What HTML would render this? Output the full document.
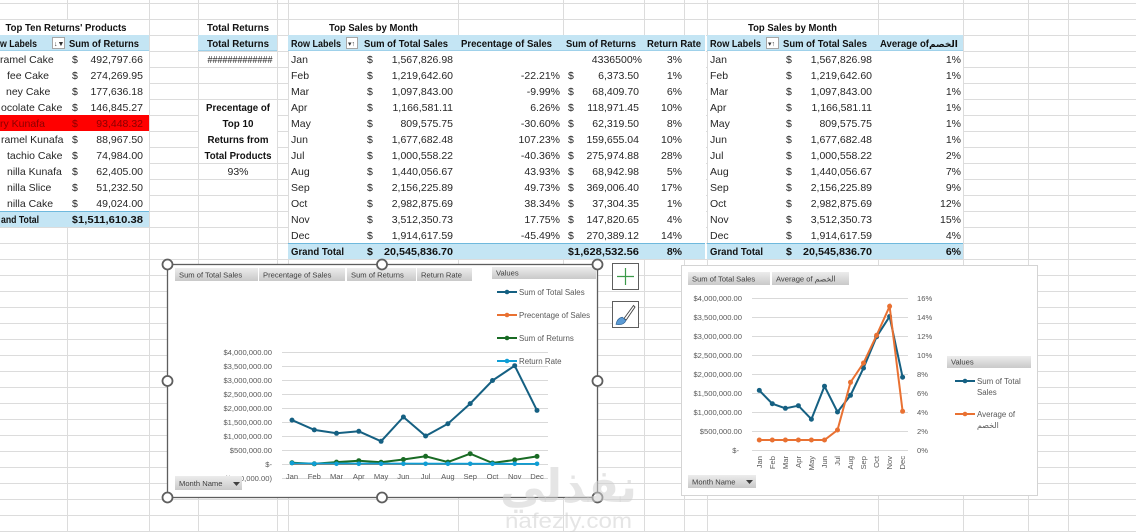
<!DOCTYPE html>
<html><head><meta charset="utf-8"><style>
html,body{margin:0;padding:0;background:#fff;}
svg{display:block;}
text{font-family:"Liberation Sans","DejaVu Sans",sans-serif;}
.t{font-size:10.5px;fill:#262626;}
.b{font-size:10.5px;font-weight:bold;fill:#111;}
.r{text-anchor:end;}
.m{text-anchor:middle;}
.c{font-size:7.6px;fill:#595959;}
.fb{font-size:7.6px;fill:#404040;}
</style></head><body>
<svg width="1136" height="532" viewBox="0 0 1136 532" xmlns="http://www.w3.org/2000/svg">
<defs>
<linearGradient id="btn" x1="0" y1="0" x2="0" y2="1"><stop offset="0" stop-color="#ececec"/><stop offset="1" stop-color="#c9c9c9"/></linearGradient>
</defs>
<rect width="1136" height="532" fill="#fff"/>
<!-- grid -->
<g stroke="#dcdcdc" stroke-width="1">
<path d="M0 3.5H1136M0 19.5H1136M0 35.5H1136M0 51.5H1136M0 67.5H1136M0 83.5H1136M0 99.5H1136M0 115.5H1136M0 131.5H1136M0 147.5H1136M0 163.5H1136M0 179.5H1136M0 195.5H1136M0 211.5H1136M0 227.5H1136M0 243.5H1136M0 259.5H1136M0 275.5H1136M0 291.5H1136M0 307.5H1136M0 323.5H1136M0 339.5H1136M0 355.5H1136M0 371.5H1136M0 387.5H1136M0 403.5H1136M0 419.5H1136M0 435.5H1136M0 451.5H1136M0 467.5H1136M0 483.5H1136M0 499.5H1136M0 515.5H1136M0 531.5H1136"/>
<path d="M67.5 0V532M149.5 0V532M198.5 0V532M277.5 0V532M288.5 0V532M458.5 0V532M563.5 0V532M644.5 0V532M684.5 0V532M707.5 0V532M878.5 0V532M963.5 0V532M1028.5 0V532M1068.5 0V532"/>
</g>
<!-- white covers for pivots -->
<rect x="0" y="20" width="149" height="207" fill="#fff"/>
<rect x="289" y="20" width="169" height="15" fill="#fff"/>
<rect x="289" y="35" width="417" height="224" fill="#fff"/>
<rect x="708" y="20" width="170" height="15" fill="#fff"/>
<rect x="708" y="35" width="255" height="224" fill="#fff"/>
<rect x="199" y="20" width="78" height="15" fill="#fff"/>
<rect x="199" y="100" width="78" height="63" fill="#fff"/>

<!-- LEFT TABLE -->
<text class="b m" x="66" y="31" textLength="121" lengthAdjust="spacingAndGlyphs">Top Ten Returns' Products</text>
<rect x="0" y="35" width="149" height="16" fill="#c4e5f4"/>
<line x1="0" y1="50.5" x2="149" y2="50.5" stroke="#9fd1ea"/>
<text class="b" x="0" y="47" textLength="37" lengthAdjust="spacingAndGlyphs">w Labels</text>
<rect x="52.5" y="37.5" width="12" height="11" fill="#fff" stroke="#a6a6a6"/>
<text x="54" y="46" style="font-size:7px;fill:#333">↓▼</text>
<text class="b" x="69" y="47" textLength="70" lengthAdjust="spacingAndGlyphs">Sum of Returns</text>
<rect x="0" y="115" width="149" height="16" fill="#ff0000"/>
<g class="t">
<text class="t" x="0" y="63">ramel Cake</text>
<text class="t" x="7" y="79">fee Cake</text>
<text class="t" x="6" y="95">ney Cake</text>
<text class="t" x="1" y="111">ocolate Cake</text>
<text class="t" x="0" y="127" style="fill:#8a0000">ry Kunafa</text>
<text class="t" x="1" y="143">ramel Kunafa</text>
<text class="t" x="7" y="159">tachio Cake</text>
<text class="t" x="7" y="175">nilla Kunafa</text>
<text class="t" x="7" y="191">nilla Slice</text>
<text class="t" x="7" y="207">nilla Cake</text>
<text class="t" x="72" y="63">$</text><text class="t r" x="143" y="63">492,797.66</text>
<text class="t" x="72" y="79">$</text><text class="t r" x="143" y="79">274,269.95</text>
<text class="t" x="72" y="95">$</text><text class="t r" x="143" y="95">177,636.18</text>
<text class="t" x="72" y="111">$</text><text class="t r" x="143" y="111">146,845.27</text>
<text class="t" x="72" y="127" style="fill:#8a0000">$</text><text class="t r" x="143" y="127" style="fill:#8a0000">93,448.32</text>
<text class="t" x="72" y="143">$</text><text class="t r" x="143" y="143">88,967.50</text>
<text class="t" x="72" y="159">$</text><text class="t r" x="143" y="159">74,984.00</text>
<text class="t" x="72" y="175">$</text><text class="t r" x="143" y="175">62,405.00</text>
<text class="t" x="72" y="191">$</text><text class="t r" x="143" y="191">51,232.50</text>
<text class="t" x="72" y="207">$</text><text class="t r" x="143" y="207">49,024.00</text>
</g>
<rect x="0" y="211" width="149" height="16" fill="#c4e5f4"/>
<line x1="0" y1="211.5" x2="149" y2="211.5" stroke="#6fb9dd"/>
<text class="b" x="1" y="223" textLength="38" lengthAdjust="spacingAndGlyphs">and Total</text>
<text class="b" x="72" y="223">$</text>
<text class="b" x="78" y="223" textLength="65" lengthAdjust="spacingAndGlyphs">1,511,610.38</text>

<!-- TOTAL RETURNS -->
<text class="b m" x="238" y="31" textLength="62" lengthAdjust="spacingAndGlyphs">Total Returns</text>
<rect x="198" y="35" width="79" height="16" fill="#c4e5f4"/>
<line x1="198" y1="50.5" x2="277" y2="50.5" stroke="#9fd1ea"/>
<text class="b m" x="238" y="47" textLength="62" lengthAdjust="spacingAndGlyphs">Total Returns</text>
<text class="t m" x="240" y="63" textLength="65" lengthAdjust="spacingAndGlyphs">#############</text>
<text class="b m" x="238" y="111" textLength="64" lengthAdjust="spacingAndGlyphs">Precentage of</text>
<text class="b m" x="238" y="127" textLength="31" lengthAdjust="spacingAndGlyphs">Top 10</text>
<text class="b m" x="238" y="143" textLength="61" lengthAdjust="spacingAndGlyphs">Returns from</text>
<text class="b m" x="238" y="159" textLength="67" lengthAdjust="spacingAndGlyphs">Total Products</text>
<text class="t m" x="238" y="175">93%</text>

<!-- MIDDLE TABLE -->
<text class="b" x="329" y="31" textLength="89" lengthAdjust="spacingAndGlyphs">Top Sales by Month</text>
<rect x="288" y="35" width="417" height="16" fill="#c4e5f4"/>
<line x1="288" y1="50.5" x2="705" y2="50.5" stroke="#9fd1ea"/>
<text class="b" x="291" y="47" textLength="50" lengthAdjust="spacingAndGlyphs">Row Labels</text>
<rect x="346.5" y="37.5" width="11" height="11" fill="#fff" stroke="#a6a6a6"/>
<text x="348" y="46" style="font-size:7px;fill:#333">▾↑</text>
<text class="b" x="364" y="47" textLength="84" lengthAdjust="spacingAndGlyphs">Sum of Total Sales</text>
<text class="b" x="461" y="47" textLength="91" lengthAdjust="spacingAndGlyphs">Precentage of Sales</text>
<text class="b" x="566" y="47" textLength="70" lengthAdjust="spacingAndGlyphs">Sum of Returns</text>
<text class="b" x="647" y="47" textLength="54" lengthAdjust="spacingAndGlyphs">Return Rate</text>
<g>
<text class="t" x="291" y="63">Jan</text><text class="t" x="367" y="63">$</text><text class="t r" x="453" y="63">1,567,826.98</text><text class="t r" x="642" y="63">4336500%</text><text class="t r" x="682" y="63">3%</text>
<text class="t" x="291" y="79">Feb</text><text class="t" x="367" y="79">$</text><text class="t r" x="453" y="79">1,219,642.60</text><text class="t r" x="560" y="79">-22.21%</text><text class="t" x="568" y="79">$</text><text class="t r" x="639" y="79">6,373.50</text><text class="t r" x="682" y="79">1%</text>
<text class="t" x="291" y="95">Mar</text><text class="t" x="367" y="95">$</text><text class="t r" x="453" y="95">1,097,843.00</text><text class="t r" x="560" y="95">-9.99%</text><text class="t" x="568" y="95">$</text><text class="t r" x="639" y="95">68,409.70</text><text class="t r" x="682" y="95">6%</text>
<text class="t" x="291" y="111">Apr</text><text class="t" x="367" y="111">$</text><text class="t r" x="453" y="111">1,166,581.11</text><text class="t r" x="560" y="111">6.26%</text><text class="t" x="568" y="111">$</text><text class="t r" x="639" y="111">118,971.45</text><text class="t r" x="682" y="111">10%</text>
<text class="t" x="291" y="127">May</text><text class="t" x="367" y="127">$</text><text class="t r" x="453" y="127">809,575.75</text><text class="t r" x="560" y="127">-30.60%</text><text class="t" x="568" y="127">$</text><text class="t r" x="639" y="127">62,319.50</text><text class="t r" x="682" y="127">8%</text>
<text class="t" x="291" y="143">Jun</text><text class="t" x="367" y="143">$</text><text class="t r" x="453" y="143">1,677,682.48</text><text class="t r" x="560" y="143">107.23%</text><text class="t" x="568" y="143">$</text><text class="t r" x="639" y="143">159,655.04</text><text class="t r" x="682" y="143">10%</text>
<text class="t" x="291" y="159">Jul</text><text class="t" x="367" y="159">$</text><text class="t r" x="453" y="159">1,000,558.22</text><text class="t r" x="560" y="159">-40.36%</text><text class="t" x="568" y="159">$</text><text class="t r" x="639" y="159">275,974.88</text><text class="t r" x="682" y="159">28%</text>
<text class="t" x="291" y="175">Aug</text><text class="t" x="367" y="175">$</text><text class="t r" x="453" y="175">1,440,056.67</text><text class="t r" x="560" y="175">43.93%</text><text class="t" x="568" y="175">$</text><text class="t r" x="639" y="175">68,942.98</text><text class="t r" x="682" y="175">5%</text>
<text class="t" x="291" y="191">Sep</text><text class="t" x="367" y="191">$</text><text class="t r" x="453" y="191">2,156,225.89</text><text class="t r" x="560" y="191">49.73%</text><text class="t" x="568" y="191">$</text><text class="t r" x="639" y="191">369,006.40</text><text class="t r" x="682" y="191">17%</text>
<text class="t" x="291" y="207">Oct</text><text class="t" x="367" y="207">$</text><text class="t r" x="453" y="207">2,982,875.69</text><text class="t r" x="560" y="207">38.34%</text><text class="t" x="568" y="207">$</text><text class="t r" x="639" y="207">37,304.35</text><text class="t r" x="682" y="207">1%</text>
<text class="t" x="291" y="223">Nov</text><text class="t" x="367" y="223">$</text><text class="t r" x="453" y="223">3,512,350.73</text><text class="t r" x="560" y="223">17.75%</text><text class="t" x="568" y="223">$</text><text class="t r" x="639" y="223">147,820.65</text><text class="t r" x="682" y="223">4%</text>
<text class="t" x="291" y="239">Dec</text><text class="t" x="367" y="239">$</text><text class="t r" x="453" y="239">1,914,617.59</text><text class="t r" x="560" y="239">-45.49%</text><text class="t" x="568" y="239">$</text><text class="t r" x="639" y="239">270,389.12</text><text class="t r" x="682" y="239">14%</text>
</g>
<rect x="288" y="243" width="417" height="16" fill="#c4e5f4"/>
<line x1="288" y1="243.5" x2="705" y2="243.5" stroke="#6fb9dd"/>
<text class="b" x="291" y="255" textLength="53" lengthAdjust="spacingAndGlyphs">Grand Total</text>
<text class="b" x="367" y="255">$</text>
<text class="b" x="384" y="255" textLength="69" lengthAdjust="spacingAndGlyphs">20,545,836.70</text>
<text class="b" x="568" y="255">$</text>
<text class="b" x="574" y="255" textLength="65" lengthAdjust="spacingAndGlyphs">1,628,532.56</text>
<text class="b r" x="682" y="255">8%</text>

<!-- RIGHT TABLE -->
<text class="b" x="748" y="31" textLength="89" lengthAdjust="spacingAndGlyphs">Top Sales by Month</text>
<rect x="707" y="35" width="256" height="16" fill="#c4e5f4"/>
<line x1="707" y1="50.5" x2="963" y2="50.5" stroke="#9fd1ea"/>
<text class="b" x="710" y="47" textLength="51" lengthAdjust="spacingAndGlyphs">Row Labels</text>
<rect x="766.5" y="37.5" width="12" height="11" fill="#fff" stroke="#a6a6a6"/>
<text x="768" y="46" style="font-size:7px;fill:#333">▾↑</text>
<text class="b" x="783" y="47" textLength="84" lengthAdjust="spacingAndGlyphs">Sum of Total Sales</text>
<text class="b" x="880" y="47" textLength="49" lengthAdjust="spacingAndGlyphs">Average of</text>
<text class="b" x="929" y="47" style="font-size:9px">الخصم</text>
<g>
<text class="t" x="710" y="63">Jan</text><text class="t" x="786" y="63">$</text><text class="t r" x="872" y="63">1,567,826.98</text><text class="t r" x="961" y="63">1%</text>
<text class="t" x="710" y="79">Feb</text><text class="t" x="786" y="79">$</text><text class="t r" x="872" y="79">1,219,642.60</text><text class="t r" x="961" y="79">1%</text>
<text class="t" x="710" y="95">Mar</text><text class="t" x="786" y="95">$</text><text class="t r" x="872" y="95">1,097,843.00</text><text class="t r" x="961" y="95">1%</text>
<text class="t" x="710" y="111">Apr</text><text class="t" x="786" y="111">$</text><text class="t r" x="872" y="111">1,166,581.11</text><text class="t r" x="961" y="111">1%</text>
<text class="t" x="710" y="127">May</text><text class="t" x="786" y="127">$</text><text class="t r" x="872" y="127">809,575.75</text><text class="t r" x="961" y="127">1%</text>
<text class="t" x="710" y="143">Jun</text><text class="t" x="786" y="143">$</text><text class="t r" x="872" y="143">1,677,682.48</text><text class="t r" x="961" y="143">1%</text>
<text class="t" x="710" y="159">Jul</text><text class="t" x="786" y="159">$</text><text class="t r" x="872" y="159">1,000,558.22</text><text class="t r" x="961" y="159">2%</text>
<text class="t" x="710" y="175">Aug</text><text class="t" x="786" y="175">$</text><text class="t r" x="872" y="175">1,440,056.67</text><text class="t r" x="961" y="175">7%</text>
<text class="t" x="710" y="191">Sep</text><text class="t" x="786" y="191">$</text><text class="t r" x="872" y="191">2,156,225.89</text><text class="t r" x="961" y="191">9%</text>
<text class="t" x="710" y="207">Oct</text><text class="t" x="786" y="207">$</text><text class="t r" x="872" y="207">2,982,875.69</text><text class="t r" x="961" y="207">12%</text>
<text class="t" x="710" y="223">Nov</text><text class="t" x="786" y="223">$</text><text class="t r" x="872" y="223">3,512,350.73</text><text class="t r" x="961" y="223">15%</text>
<text class="t" x="710" y="239">Dec</text><text class="t" x="786" y="239">$</text><text class="t r" x="872" y="239">1,914,617.59</text><text class="t r" x="961" y="239">4%</text>
</g>
<rect x="707" y="243" width="256" height="16" fill="#c4e5f4"/>
<line x1="707" y1="243.5" x2="963" y2="243.5" stroke="#6fb9dd"/>
<text class="b" x="710" y="255" textLength="53" lengthAdjust="spacingAndGlyphs">Grand Total</text>
<text class="b" x="786" y="255">$</text>
<text class="b" x="803" y="255" textLength="69" lengthAdjust="spacingAndGlyphs">20,545,836.70</text>
<text class="b r" x="961" y="255">6%</text>

<!-- LEFT CHART -->
<rect x="167.5" y="264.5" width="430" height="233" fill="#fff" stroke="#5e5e5e" stroke-width="1.3"/>
<g>
<rect x="175" y="268" width="83" height="13" fill="url(#btn)"/>
<text class="fb" x="179" y="277.5">Sum of Total Sales</text>
<rect x="259" y="268" width="86" height="13" fill="url(#btn)"/>
<text class="fb" x="263" y="277.5">Precentage of Sales</text>
<rect x="347" y="268" width="69" height="13" fill="url(#btn)"/>
<text class="fb" x="351" y="277.5">Sum of Returns</text>
<rect x="417" y="268" width="55" height="13" fill="url(#btn)"/>
<text class="fb" x="421" y="277.5">Return Rate</text>
<rect x="492" y="267" width="104" height="12" fill="url(#btn)"/>
<text class="fb" x="496" y="275.5">Values</text>
</g>
<g stroke="#d9d9d9" stroke-width="1">
<path d="M282 352.5H548M282 366.5H548M282 380.5H548M282 394.5H548M282 408.5H548M282 422.5H548M282 436.5H548M282 450.5H548M282 464.5H548M282 478.5H548"/>
</g>
<g class="c" text-anchor="end">
<text x="272" y="355">$4,000,000.00</text>
<text x="272" y="369">$3,500,000.00</text>
<text x="272" y="383">$3,000,000.00</text>
<text x="272" y="397">$2,500,000.00</text>
<text x="272" y="411">$2,000,000.00</text>
<text x="272" y="425">$1,500,000.00</text>
<text x="272" y="439">$1,000,000.00</text>
<text x="272" y="453">$500,000.00</text>
<text x="272" y="467">$-</text>
<text x="272" y="481">($500,000.00)</text>
</g>
<g class="c" text-anchor="middle">
<text x="292" y="479">Jan</text><text x="314.3" y="479">Feb</text><text x="336.5" y="479">Mar</text><text x="358.8" y="479">Apr</text><text x="381.1" y="479">May</text><text x="403.4" y="479">Jun</text><text x="425.6" y="479">Jul</text><text x="447.9" y="479">Aug</text><text x="470.2" y="479">Sep</text><text x="492.5" y="479">Oct</text><text x="514.7" y="479">Nov</text><text x="537" y="479">Dec</text>
</g>
<!-- series -->
<polyline fill="none" stroke="#156082" stroke-width="2" points="292,420.1 314.3,429.9 336.5,433.3 358.8,431.3 381.1,441.3 403.4,417 425.6,436 447.9,423.7 470.2,403.6 492.5,380.5 514.7,365.7 537,410.4"/>
<g fill="#156082"><circle cx="292" cy="420.1" r="2.5"/><circle cx="314.3" cy="429.9" r="2.5"/><circle cx="336.5" cy="433.3" r="2.5"/><circle cx="358.8" cy="431.3" r="2.5"/><circle cx="381.1" cy="441.3" r="2.5"/><circle cx="403.4" cy="417" r="2.5"/><circle cx="425.6" cy="436" r="2.5"/><circle cx="447.9" cy="423.7" r="2.5"/><circle cx="470.2" cy="403.6" r="2.5"/><circle cx="492.5" cy="380.5" r="2.5"/><circle cx="514.7" cy="365.7" r="2.5"/><circle cx="537" cy="410.4" r="2.5"/></g>
<polyline fill="none" stroke="#e97132" stroke-width="2" points="292,464 537,464"/>
<polyline fill="none" stroke="#196b24" stroke-width="2" points="292,462.8 314.3,463.8 336.5,462.1 358.8,460.7 381.1,462.3 403.4,459.5 425.6,456.3 447.9,462.1 470.2,453.7 492.5,463 514.7,459.9 537,456.4"/>
<g fill="#196b24"><circle cx="292" cy="462.8" r="2.5"/><circle cx="314.3" cy="463.8" r="2.5"/><circle cx="336.5" cy="462.1" r="2.5"/><circle cx="358.8" cy="460.7" r="2.5"/><circle cx="381.1" cy="462.3" r="2.5"/><circle cx="403.4" cy="459.5" r="2.5"/><circle cx="425.6" cy="456.3" r="2.5"/><circle cx="447.9" cy="462.1" r="2.5"/><circle cx="470.2" cy="453.7" r="2.5"/><circle cx="492.5" cy="463" r="2.5"/><circle cx="514.7" cy="459.9" r="2.5"/><circle cx="537" cy="456.4" r="2.5"/></g>
<polyline fill="none" stroke="#0f9ed5" stroke-width="2" points="292,463.5 537,463.9"/>
<g fill="#0f9ed5"><circle cx="292" cy="463" r="2.3"/><circle cx="314.3" cy="463.8" r="2.3"/><circle cx="336.5" cy="463.8" r="2.3"/><circle cx="358.8" cy="463.8" r="2.3"/><circle cx="381.1" cy="463.8" r="2.3"/><circle cx="403.4" cy="463.8" r="2.3"/><circle cx="425.6" cy="463.8" r="2.3"/><circle cx="447.9" cy="463.8" r="2.3"/><circle cx="470.2" cy="463.8" r="2.3"/><circle cx="492.5" cy="463.8" r="2.3"/><circle cx="514.7" cy="463.8" r="2.3"/><circle cx="537" cy="463.8" r="2.3"/></g>
<!-- legend -->
<g stroke-width="2">
<line x1="497" y1="292" x2="517" y2="292" stroke="#156082"/><circle cx="507" cy="292" r="2.3" fill="#156082"/>
<line x1="497" y1="315" x2="517" y2="315" stroke="#e97132"/><circle cx="507" cy="315" r="2.3" fill="#e97132"/>
<line x1="497" y1="338" x2="517" y2="338" stroke="#196b24"/><circle cx="507" cy="338" r="2.3" fill="#196b24"/>
<line x1="497" y1="361" x2="517" y2="361" stroke="#0f9ed5"/><circle cx="507" cy="361" r="2.3" fill="#0f9ed5"/>
</g>
<g class="c" style="font-size:7.9px">
<text x="519" y="295">Sum of Total Sales</text>
<text x="519" y="318">Precentage of Sales</text>
<text x="519" y="341">Sum of Returns</text>
<text x="519" y="364">Return Rate</text>
</g>
<rect x="175" y="476" width="67" height="14" fill="url(#btn)"/>
<text class="fb" x="179" y="486">Month Name</text>
<path d="M233 482h7l-3.5 4z" fill="#404040"/>
<!-- handles -->
<g fill="#fff" stroke="#5e5e5e" stroke-width="1.8">
<circle cx="167.5" cy="264.5" r="5"/><circle cx="382" cy="264.5" r="5"/><circle cx="597.5" cy="264.5" r="5"/>
<circle cx="167.5" cy="381" r="5"/><circle cx="597.5" cy="381" r="5"/>
<circle cx="167.5" cy="497.5" r="5"/><circle cx="382" cy="497.5" r="5"/><circle cx="597.5" cy="497.5" r="5"/>
</g>
<!-- side buttons -->
<rect x="612.5" y="263.5" width="26" height="26" fill="#fff" stroke="#5e5e5e"/>
<path d="M617 276.5H634M625.5 268V285" stroke="#3c9a4a" stroke-width="1.2"/>
<rect x="612.5" y="301.5" width="26" height="26" fill="#fff" stroke="#5e5e5e"/>
<path d="M633.5 305.5 L624 318.5 L626.2 320 L635 307 Z" fill="#fff" stroke="#444" stroke-width="0.9"/>
<path d="M616 324.5 Q617 318 622.5 317.2 L626 320.5 Q624 325.5 616 324.5 Z" fill="#5b9bd5" stroke="#2f5f8f" stroke-width="0.6"/>

<!-- RIGHT CHART -->
<rect x="681.5" y="265.5" width="356" height="230" fill="#fff" stroke="#d4d4d4"/>
<rect x="688" y="272" width="82" height="13" fill="url(#btn)"/>
<text class="fb" x="692" y="281.5">Sum of Total Sales</text>
<rect x="772" y="272" width="77" height="13" fill="url(#btn)"/>
<text class="fb" x="776" y="281.5">Average of الخصم</text>
<g stroke="#d9d9d9" stroke-width="1">
<path d="M752 298.5H908M752 317.5H908M752 336.5H908M752 355.5H908M752 374.5H908M752 393.5H908M752 412.5H908M752 431.5H908M752 450.5H908"/>
</g>
<g class="c" text-anchor="end">
<text x="742" y="301">$4,000,000.00</text>
<text x="742" y="320">$3,500,000.00</text>
<text x="742" y="339">$3,000,000.00</text>
<text x="742" y="358">$2,500,000.00</text>
<text x="742" y="377">$2,000,000.00</text>
<text x="742" y="396">$1,500,000.00</text>
<text x="742" y="415">$1,000,000.00</text>
<text x="742" y="434">$500,000.00</text>
<text x="739" y="453">$-</text>
</g>
<g class="c">
<text x="917" y="301">16%</text>
<text x="917" y="320">14%</text>
<text x="917" y="339">12%</text>
<text x="917" y="358">10%</text>
<text x="917" y="377">8%</text>
<text x="917" y="396">6%</text>
<text x="917" y="415">4%</text>
<text x="917" y="434">2%</text>
<text x="917" y="453">0%</text>
</g>
<g class="c" text-anchor="end">
<text transform="translate(762,456) rotate(-90)">Jan</text>
<text transform="translate(775,456) rotate(-90)">Feb</text>
<text transform="translate(788,456) rotate(-90)">Mar</text>
<text transform="translate(801,456) rotate(-90)">Apr</text>
<text transform="translate(814,456) rotate(-90)">May</text>
<text transform="translate(827,456) rotate(-90)">Jun</text>
<text transform="translate(840,456) rotate(-90)">Jul</text>
<text transform="translate(853,456) rotate(-90)">Aug</text>
<text transform="translate(866,456) rotate(-90)">Sep</text>
<text transform="translate(879,456) rotate(-90)">Oct</text>
<text transform="translate(892,456) rotate(-90)">Nov</text>
<text transform="translate(905,456) rotate(-90)">Dec</text>
</g>
<polyline fill="none" stroke="#156082" stroke-width="2" points="759.3,390.4 772.3,403.7 785.4,408.3 798.4,405.7 811.4,419.2 824.5,386.2 837.5,412 850.5,395.3 863.5,368.1 876.6,336.7 889.6,316.5 902.6,377.2"/>
<g fill="#156082"><circle cx="759.3" cy="390.4" r="2.5"/><circle cx="772.3" cy="403.7" r="2.5"/><circle cx="785.4" cy="408.3" r="2.5"/><circle cx="798.4" cy="405.7" r="2.5"/><circle cx="811.4" cy="419.2" r="2.5"/><circle cx="824.5" cy="386.2" r="2.5"/><circle cx="837.5" cy="412" r="2.5"/><circle cx="850.5" cy="395.3" r="2.5"/><circle cx="863.5" cy="368.1" r="2.5"/><circle cx="876.6" cy="336.7" r="2.5"/><circle cx="889.6" cy="316.5" r="2.5"/><circle cx="902.6" cy="377.2" r="2.5"/></g>
<polyline fill="none" stroke="#e97132" stroke-width="2" points="759.3,440 772.3,440 785.4,440 798.4,440 811.4,440 824.5,440 837.5,430 850.5,382.3 863.5,363 876.6,335.3 889.6,306.3 902.6,411.3"/>
<g fill="#e97132"><circle cx="759.3" cy="440" r="2.5"/><circle cx="772.3" cy="440" r="2.5"/><circle cx="785.4" cy="440" r="2.5"/><circle cx="798.4" cy="440" r="2.5"/><circle cx="811.4" cy="440" r="2.5"/><circle cx="824.5" cy="440" r="2.5"/><circle cx="837.5" cy="430" r="2.5"/><circle cx="850.5" cy="382.3" r="2.5"/><circle cx="863.5" cy="363" r="2.5"/><circle cx="876.6" cy="335.3" r="2.5"/><circle cx="889.6" cy="306.3" r="2.5"/><circle cx="902.6" cy="411.3" r="2.5"/></g>
<rect x="947" y="356" width="84" height="12" fill="url(#btn)"/>
<text class="fb" x="951" y="364.5">Values</text>
<line x1="955" y1="381" x2="975" y2="381" stroke="#156082" stroke-width="2"/><circle cx="965" cy="381" r="2.3" fill="#156082"/>
<line x1="955" y1="414" x2="975" y2="414" stroke="#e97132" stroke-width="2"/><circle cx="965" cy="414" r="2.3" fill="#e97132"/>
<g class="c" style="font-size:7.9px">
<text x="977" y="384">Sum of Total</text>
<text x="977" y="395">Sales</text>
<text x="977" y="417">Average of</text>
<text x="977" y="428">الخصم</text>
</g>
<rect x="688" y="475" width="68" height="13" fill="url(#btn)"/>
<text class="fb" x="692" y="484.5">Month Name</text>
<path d="M746 480h7l-3.5 4z" fill="#404040"/>

<!-- watermark -->
<text x="500" y="502" textLength="137" lengthAdjust="spacingAndGlyphs" style="font-family:'DejaVu Sans',sans-serif;font-weight:bold;font-size:46px;fill:#cfcfcf;fill-opacity:0.55">نفذلي</text>
<text x="505" y="528" textLength="127" lengthAdjust="spacingAndGlyphs" style="font-size:21px;fill:#cfcfcf;fill-opacity:0.55">nafezly.com</text>
</svg>
</body></html>
